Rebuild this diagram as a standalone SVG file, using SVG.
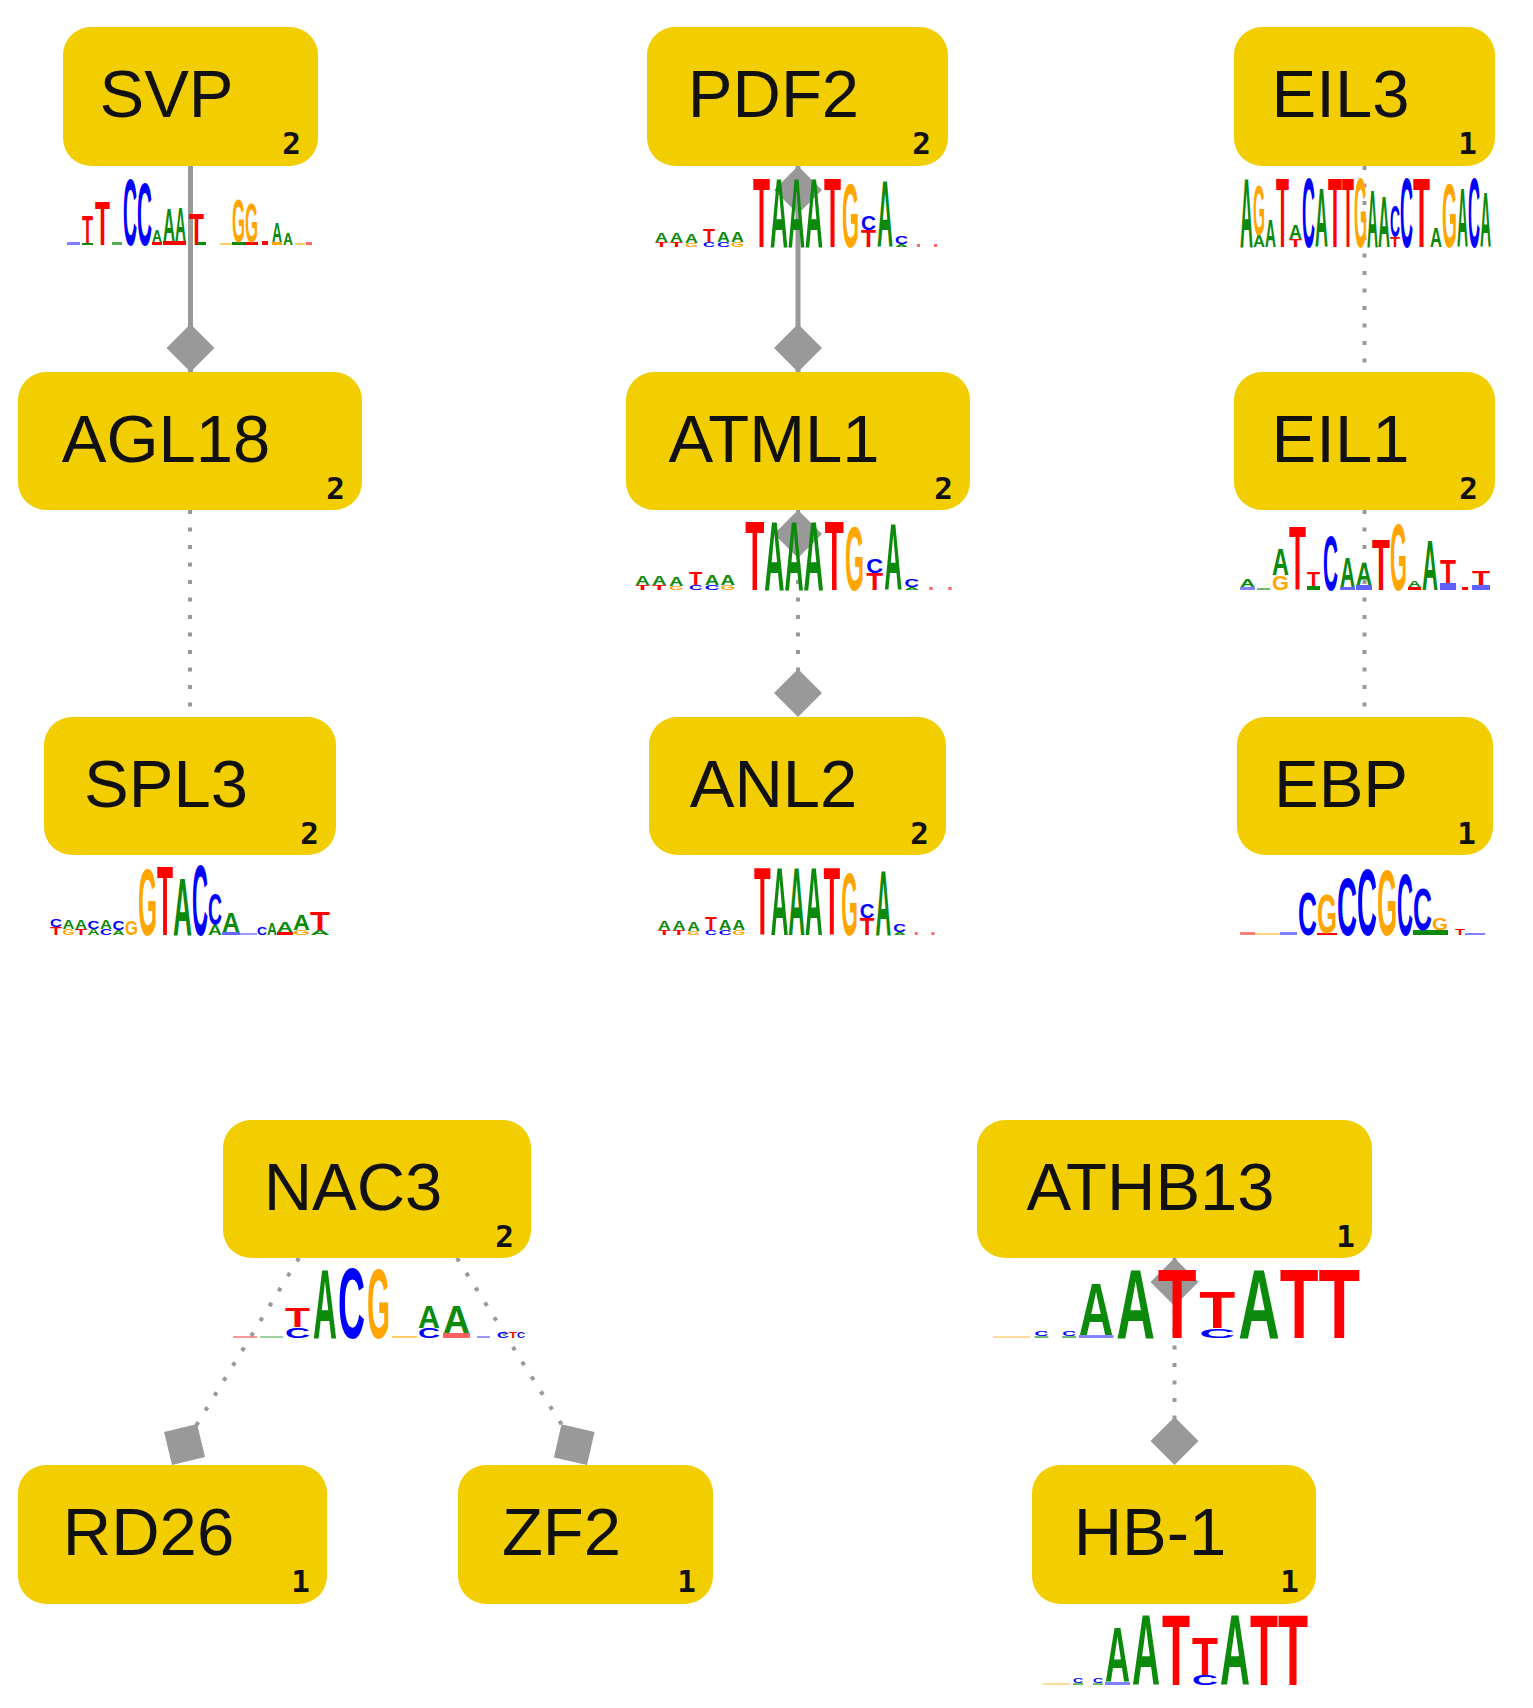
<svg xmlns="http://www.w3.org/2000/svg" xmlns:xlink="http://www.w3.org/1999/xlink" width="1533" height="1708" viewBox="0 0 1533 1708">
<style>
.box{fill:#f2cd00}
.lbl{font-family:"Liberation Sans",Arial,sans-serif;font-size:67px;fill:#111;text-anchor:middle}
.cnt{font-family:"DejaVu Sans Mono","Liberation Mono",monospace;font-size:31px;font-weight:bold;fill:#111;text-anchor:end}
.solid{stroke:#999;stroke-width:5;fill:none}
.dot{stroke:#999;stroke-width:4;stroke-dasharray:4 13.5;fill:none}
.l{font-family:"Liberation Sans",Arial,sans-serif;font-weight:bold}
.a{fill:#0c8a0c}.c{fill:#0000ff}.g{fill:#ffa500}.t{fill:#ff0000}
</style>
<defs>
<marker id="dia" viewBox="0 0 48 48" markerUnits="userSpaceOnUse" markerWidth="48" markerHeight="48" refX="48" refY="24" orient="auto"><path d="M0,24 L24,0 L48,24 L24,48 Z" fill="#999"/></marker>
<marker id="diaS" viewBox="0 0 48 48" markerUnits="userSpaceOnUse" markerWidth="48" markerHeight="48" refX="0" refY="24" orient="auto"><path d="M0,24 L24,0 L48,24 L24,48 Z" fill="#999"/></marker>
<g id="logoTAAATGCA">
<text class="l t" x="2" y="0" font-size="7" textLength="13" lengthAdjust="spacingAndGlyphs">T</text>
<text class="l a" x="2" y="-5" font-size="12.6" textLength="13" lengthAdjust="spacingAndGlyphs">A</text>
<text class="l t" x="17" y="0" font-size="7" textLength="13" lengthAdjust="spacingAndGlyphs">T</text>
<text class="l a" x="17" y="-5" font-size="12.6" textLength="13" lengthAdjust="spacingAndGlyphs">A</text>
<text class="l g" x="32" y="0" font-size="5.6" textLength="13" lengthAdjust="spacingAndGlyphs">G</text>
<text class="l a" x="32" y="-4" font-size="12.6" textLength="13" lengthAdjust="spacingAndGlyphs">A</text>
<text class="l c" x="50" y="0" font-size="7" textLength="12" lengthAdjust="spacingAndGlyphs">C</text>
<text class="l t" x="50" y="-5" font-size="18.2" textLength="12" lengthAdjust="spacingAndGlyphs">T</text>
<text class="l c" x="64" y="0" font-size="7" textLength="13" lengthAdjust="spacingAndGlyphs">C</text>
<text class="l a" x="64" y="-5" font-size="14" textLength="13" lengthAdjust="spacingAndGlyphs">A</text>
<text class="l g" x="78" y="0" font-size="7" textLength="13" lengthAdjust="spacingAndGlyphs">G</text>
<text class="l a" x="78" y="-5" font-size="14" textLength="13" lengthAdjust="spacingAndGlyphs">A</text>
<text class="l t" x="100" y="0" font-size="98" textLength="17" lengthAdjust="spacingAndGlyphs">T</text>
<text class="l a" x="117" y="0" font-size="98" textLength="18" lengthAdjust="spacingAndGlyphs">A</text>
<text class="l a" x="135" y="0" font-size="98" textLength="17" lengthAdjust="spacingAndGlyphs">A</text>
<text class="l a" x="152" y="0" font-size="98" textLength="18" lengthAdjust="spacingAndGlyphs">A</text>
<text class="l t" x="171" y="0" font-size="98" textLength="17" lengthAdjust="spacingAndGlyphs">T</text>
<text class="l g" x="189" y="0" font-size="91" textLength="17" lengthAdjust="spacingAndGlyphs">G</text>
<text class="l t" x="208" y="0" font-size="23.8" textLength="15" lengthAdjust="spacingAndGlyphs">T</text>
<text class="l c" x="208" y="-17" font-size="21" textLength="15" lengthAdjust="spacingAndGlyphs">C</text>
<text class="l a" x="224" y="0" font-size="93.8" textLength="16" lengthAdjust="spacingAndGlyphs">A</text>
<text class="l a" x="242" y="0" font-size="4.2" textLength="13" lengthAdjust="spacingAndGlyphs">A</text>
<text class="l c" x="242" y="-3" font-size="11.2" textLength="13" lengthAdjust="spacingAndGlyphs">C</text>
<rect x="264" y="-3" width="3" height="3" fill="#ff6666"/>
<rect x="281" y="-3" width="3" height="3" fill="#ff6666"/>
</g>
<g id="logoAATTATT">
<rect x="0" y="-2" width="27" height="2" fill="#ffa500" opacity="0.4"/>
<rect x="30" y="-2" width="10" height="2" fill="#0c8a0c" opacity="0.6"/>
<text class="l c" x="30" y="-2" font-size="7" textLength="10" lengthAdjust="spacingAndGlyphs">C</text>
<rect x="50" y="-2" width="10" height="2" fill="#0c8a0c" opacity="0.6"/>
<text class="l c" x="50" y="-2" font-size="7" textLength="10" lengthAdjust="spacingAndGlyphs">C</text>
<rect x="62" y="-3" width="25" height="3" fill="#0000ff" opacity="0.5"/>
<text class="l a" x="62" y="-3" font-size="77" textLength="25" lengthAdjust="spacingAndGlyphs">A</text>
<text class="l a" x="89" y="0" font-size="100.8" textLength="28" lengthAdjust="spacingAndGlyphs">A</text>
<text class="l t" x="119" y="0" font-size="100.8" textLength="28" lengthAdjust="spacingAndGlyphs">T</text>
<text class="l c" x="149" y="0" font-size="14" textLength="26" lengthAdjust="spacingAndGlyphs">C</text>
<text class="l t" x="149" y="-10" font-size="53.2" textLength="26" lengthAdjust="spacingAndGlyphs">T</text>
<text class="l a" x="177" y="0" font-size="100.8" textLength="30" lengthAdjust="spacingAndGlyphs">A</text>
<text class="l t" x="207" y="0" font-size="100.8" textLength="28" lengthAdjust="spacingAndGlyphs">T</text>
<text class="l t" x="235" y="0" font-size="100.8" textLength="30" lengthAdjust="spacingAndGlyphs">T</text>
</g>
</defs>
<rect width="1533" height="1708" fill="#fff"/>
<g id="connectors">
<path class="solid" d="M190.5,166 L190.5,372" marker-end="url(#dia)"/>
<path class="solid" d="M798,166 L798,372" marker-start="url(#diaS)" marker-end="url(#dia)"/>
<path class="dot" d="M1364.5,166 L1364.5,372"/>
<path class="dot" d="M190,510 L190,717"/>
<path class="dot" d="M798,510 L798,717" marker-start="url(#diaS)" marker-end="url(#dia)"/>
<path class="dot" d="M1364.5,510 L1364.5,717"/>
<path class="dot" d="M299,1258 L172,1465" marker-end="url(#dia)"/>
<path class="dot" d="M457,1258 L587,1465" marker-end="url(#dia)"/>
<path class="dot" d="M1174.5,1258 L1174.5,1465" marker-start="url(#diaS)" marker-end="url(#dia)"/>
</g>
<g id="SVP">
<rect class="box" x="63" y="27" width="255" height="139" rx="28"/>
<text class="lbl" x="166.5" y="117">SVP</text>
<text class="cnt" x="301" y="154">2</text>
<g>
<rect x="67" y="242" width="13" height="3" fill="#0000ff" opacity="0.5"/>
<rect x="82" y="243" width="11" height="2" fill="#0c8a0c"/>
<text class="l t" x="82" y="243" font-size="39.2" textLength="11" lengthAdjust="spacingAndGlyphs">T</text>
<text class="l t" x="95" y="245" font-size="63" textLength="15" lengthAdjust="spacingAndGlyphs">T</text>
<rect x="112" y="242" width="10" height="3" fill="#0c8a0c" opacity="0.7"/>
<text class="l c" x="123" y="245" font-size="95.2" textLength="14" lengthAdjust="spacingAndGlyphs">C</text>
<text class="l c" x="137" y="245" font-size="88.2" textLength="15" lengthAdjust="spacingAndGlyphs">C</text>
<rect x="152" y="242" width="10" height="3" fill="#ff0000"/>
<text class="l a" x="152" y="242" font-size="16.8" textLength="10" lengthAdjust="spacingAndGlyphs">A</text>
<rect x="163" y="241" width="12" height="4" fill="#ff0000"/>
<text class="l a" x="163" y="241" font-size="46.2" textLength="12" lengthAdjust="spacingAndGlyphs">A</text>
<rect x="175" y="241" width="11" height="4" fill="#ff0000"/>
<text class="l a" x="175" y="241" font-size="49" textLength="11" lengthAdjust="spacingAndGlyphs">A</text>
<text class="l t" x="189" y="245" font-size="44.8" textLength="15" lengthAdjust="spacingAndGlyphs">T</text>
<rect x="198" y="242" width="8" height="3" fill="#0c8a0c"/>
<rect x="220" y="243" width="12" height="2" fill="#ffa500" opacity="0.6"/>
<rect x="232" y="242" width="13" height="3" fill="#0c8a0c"/>
<text class="l g" x="232" y="242" font-size="61.6" textLength="13" lengthAdjust="spacingAndGlyphs">G</text>
<rect x="245" y="242" width="13" height="3" fill="#ff0000"/>
<text class="l g" x="245" y="242" font-size="56" textLength="13" lengthAdjust="spacingAndGlyphs">G</text>
<rect x="262" y="241" width="6" height="4" fill="#ff0000"/>
<rect x="272" y="242" width="10" height="3" fill="#ffa500"/>
<text class="l a" x="272" y="242" font-size="28" textLength="10" lengthAdjust="spacingAndGlyphs">A</text>
<text class="l a" x="283" y="245" font-size="16.8" textLength="10" lengthAdjust="spacingAndGlyphs">A</text>
<rect x="295" y="243" width="10" height="2" fill="#ffa500" opacity="0.6"/>
<rect x="306" y="242" width="6" height="3" fill="#ff0000" opacity="0.6"/>
</g>
</g>
<g id="PDF2">
<rect class="box" x="647" y="27" width="301" height="139" rx="28"/>
<text class="lbl" x="773.5" y="117">PDF2</text>
<text class="cnt" x="931" y="154">2</text>
<use xlink:href="#logoTAAATGCA" transform="translate(653,247)"/>
</g>
<g id="EIL3">
<rect class="box" x="1234" y="27" width="261" height="139" rx="28"/>
<text class="lbl" x="1340.5" y="117">EIL3</text>
<text class="cnt" x="1477" y="154">1</text>
<g>
<text class="l a" x="1240" y="247" font-size="98" textLength="13" lengthAdjust="spacingAndGlyphs">A</text>
<text class="l a" x="1253" y="247" font-size="16.8" textLength="12" lengthAdjust="spacingAndGlyphs">A</text>
<text class="l g" x="1253" y="235" font-size="70" textLength="12" lengthAdjust="spacingAndGlyphs">G</text>
<text class="l a" x="1265" y="247" font-size="39.2" textLength="11" lengthAdjust="spacingAndGlyphs">A</text>
<text class="l t" x="1276" y="247" font-size="98" textLength="13" lengthAdjust="spacingAndGlyphs">T</text>
<text class="l t" x="1289" y="247" font-size="11.2" textLength="13" lengthAdjust="spacingAndGlyphs">T</text>
<text class="l a" x="1289" y="239" font-size="19.6" textLength="13" lengthAdjust="spacingAndGlyphs">A</text>
<text class="l c" x="1302" y="247" font-size="98" textLength="13" lengthAdjust="spacingAndGlyphs">C</text>
<text class="l a" x="1315" y="247" font-size="84" textLength="13" lengthAdjust="spacingAndGlyphs">A</text>
<text class="l t" x="1328" y="247" font-size="98" textLength="14" lengthAdjust="spacingAndGlyphs">T</text>
<text class="l t" x="1342" y="247" font-size="98" textLength="12" lengthAdjust="spacingAndGlyphs">T</text>
<text class="l g" x="1354" y="247" font-size="98" textLength="13" lengthAdjust="spacingAndGlyphs">G</text>
<text class="l a" x="1367" y="247" font-size="81.2" textLength="11" lengthAdjust="spacingAndGlyphs">A</text>
<text class="l a" x="1378" y="247" font-size="72.8" textLength="12" lengthAdjust="spacingAndGlyphs">A</text>
<text class="l t" x="1390" y="247" font-size="14" textLength="10" lengthAdjust="spacingAndGlyphs">T</text>
<text class="l c" x="1390" y="237" font-size="44.8" textLength="10" lengthAdjust="spacingAndGlyphs">C</text>
<text class="l c" x="1400" y="247" font-size="98" textLength="13" lengthAdjust="spacingAndGlyphs">C</text>
<text class="l t" x="1413" y="247" font-size="98" textLength="17" lengthAdjust="spacingAndGlyphs">T</text>
<text class="l a" x="1430" y="247" font-size="28" textLength="12" lengthAdjust="spacingAndGlyphs">A</text>
<text class="l g" x="1442" y="247" font-size="91" textLength="15" lengthAdjust="spacingAndGlyphs">G</text>
<text class="l a" x="1457" y="247" font-size="84" textLength="11" lengthAdjust="spacingAndGlyphs">A</text>
<text class="l c" x="1468" y="247" font-size="98" textLength="12" lengthAdjust="spacingAndGlyphs">C</text>
<text class="l a" transform="translate(1480,247) scale(0.2,1)" font-size="77">A</text>
</g>
</g>
<g id="AGL18">
<rect class="box" x="18" y="372" width="344" height="138" rx="28"/>
<text class="lbl" x="166" y="462">AGL18</text>
<text class="cnt" x="345" y="499">2</text>
</g>
<g id="ATML1">
<rect class="box" x="626" y="372" width="344" height="138" rx="28"/>
<text class="lbl" x="774" y="462">ATML1</text>
<text class="cnt" x="953" y="499">2</text>
<use xlink:href="#logoTAAATGCA" transform="translate(633,590) scale(1.122,1)"/>
</g>
<g id="EIL1">
<rect class="box" x="1234" y="372" width="261" height="138" rx="28"/>
<text class="lbl" x="1340.5" y="462">EIL1</text>
<text class="cnt" x="1478" y="499">2</text>
<g>
<rect x="1240" y="587" width="15" height="3" fill="#0000ff" opacity="0.5"/>
<text class="l a" x="1240" y="587" font-size="11.2" textLength="15" lengthAdjust="spacingAndGlyphs">A</text>
<rect x="1257" y="588" width="13" height="2" fill="#0c8a0c" opacity="0.6"/>
<text class="l g" x="1272" y="590" font-size="21" textLength="17" lengthAdjust="spacingAndGlyphs">G</text>
<text class="l a" x="1272" y="575" font-size="36.4" textLength="17" lengthAdjust="spacingAndGlyphs">A</text>
<text class="l t" x="1289" y="590" font-size="91" textLength="17" lengthAdjust="spacingAndGlyphs">T</text>
<rect x="1307" y="586" width="13" height="4" fill="#0c8a0c"/>
<text class="l t" x="1307" y="586" font-size="21" textLength="13" lengthAdjust="spacingAndGlyphs">T</text>
<text class="l c" x="1323" y="590" font-size="77" textLength="15" lengthAdjust="spacingAndGlyphs">C</text>
<rect x="1340" y="587" width="15" height="3" fill="#0000ff" opacity="0.6"/>
<text class="l a" x="1340" y="587" font-size="42" textLength="15" lengthAdjust="spacingAndGlyphs">A</text>
<rect x="1356" y="585" width="16" height="5" fill="#6060ff"/>
<text class="l a" x="1356" y="585" font-size="30.8" textLength="16" lengthAdjust="spacingAndGlyphs">A</text>
<text class="l t" x="1372" y="590" font-size="72.8" textLength="18" lengthAdjust="spacingAndGlyphs">T</text>
<text class="l g" x="1390" y="590" font-size="93.8" textLength="17" lengthAdjust="spacingAndGlyphs">G</text>
<rect x="1408" y="587" width="13" height="3" fill="#ff0000"/>
<text class="l a" x="1408" y="587" font-size="9.8" textLength="13" lengthAdjust="spacingAndGlyphs">A</text>
<text class="l a" x="1422" y="590" font-size="70" textLength="16" lengthAdjust="spacingAndGlyphs">A</text>
<rect x="1440" y="583" width="16" height="7" fill="#6060ff"/>
<text class="l t" x="1440" y="583" font-size="33.6" textLength="16" lengthAdjust="spacingAndGlyphs">T</text>
<rect x="1462" y="587" width="6" height="3" fill="#ff0000"/>
<rect x="1472" y="585" width="18" height="5" fill="#6060ff"/>
<text class="l t" x="1472" y="585" font-size="19.6" textLength="18" lengthAdjust="spacingAndGlyphs">T</text>
</g>
</g>
<g id="SPL3">
<rect class="box" x="44" y="717" width="292" height="138" rx="28"/>
<text class="lbl" x="166" y="807">SPL3</text>
<text class="cnt" x="319" y="844">2</text>
<g>
<text class="l t" x="50" y="935" font-size="11.2" textLength="12" lengthAdjust="spacingAndGlyphs">T</text>
<text class="l c" x="50" y="927" font-size="11.2" textLength="12" lengthAdjust="spacingAndGlyphs">C</text>
<text class="l g" x="62.5" y="935" font-size="8.4" textLength="12" lengthAdjust="spacingAndGlyphs">G</text>
<text class="l a" x="62.5" y="929" font-size="12.6" textLength="12" lengthAdjust="spacingAndGlyphs">A</text>
<text class="l t" x="75" y="935" font-size="8.4" textLength="12" lengthAdjust="spacingAndGlyphs">T</text>
<text class="l a" x="75" y="929" font-size="12.6" textLength="12" lengthAdjust="spacingAndGlyphs">A</text>
<text class="l a" x="87.5" y="935" font-size="8.4" textLength="12" lengthAdjust="spacingAndGlyphs">A</text>
<text class="l c" x="87.5" y="929" font-size="11.2" textLength="12" lengthAdjust="spacingAndGlyphs">C</text>
<text class="l c" x="100" y="935" font-size="8.4" textLength="12" lengthAdjust="spacingAndGlyphs">C</text>
<text class="l a" x="100" y="929" font-size="12.6" textLength="12" lengthAdjust="spacingAndGlyphs">A</text>
<text class="l a" x="112.5" y="935" font-size="7" textLength="12" lengthAdjust="spacingAndGlyphs">A</text>
<text class="l c" x="112.5" y="930" font-size="12.6" textLength="12" lengthAdjust="spacingAndGlyphs">C</text>
<text class="l g" x="125" y="935" font-size="21" textLength="13" lengthAdjust="spacingAndGlyphs">G</text>
<text class="l g" x="138" y="935" font-size="95.2" textLength="19" lengthAdjust="spacingAndGlyphs">G</text>
<text class="l t" x="157" y="935" font-size="98" textLength="16" lengthAdjust="spacingAndGlyphs">T</text>
<text class="l a" x="173" y="935" font-size="81.2" textLength="19" lengthAdjust="spacingAndGlyphs">A</text>
<text class="l c" x="192" y="935" font-size="100.8" textLength="16" lengthAdjust="spacingAndGlyphs">C</text>
<text class="l a" x="208" y="935" font-size="14" textLength="14" lengthAdjust="spacingAndGlyphs">A</text>
<text class="l c" x="208" y="925" font-size="44.8" textLength="14" lengthAdjust="spacingAndGlyphs">C</text>
<rect x="222" y="932" width="18" height="3" fill="#0000ff" opacity="0.6"/>
<text class="l a" x="222" y="932" font-size="28" textLength="18" lengthAdjust="spacingAndGlyphs">A</text>
<rect x="240" y="933" width="17" height="2" fill="#0000ff" opacity="0.4"/>
<text class="l c" x="257" y="935" font-size="11.2" textLength="10" lengthAdjust="spacingAndGlyphs">C</text>
<text class="l a" x="267" y="935" font-size="16.8" textLength="10" lengthAdjust="spacingAndGlyphs">A</text>
<rect x="277" y="932" width="16" height="3" fill="#ff0000"/>
<text class="l a" x="277" y="932" font-size="15" textLength="16" lengthAdjust="spacingAndGlyphs">A</text>
<text class="l g" x="293" y="935" font-size="7" textLength="17" lengthAdjust="spacingAndGlyphs">G</text>
<text class="l a" x="293" y="930" font-size="22.4" textLength="17" lengthAdjust="spacingAndGlyphs">A</text>
<text class="l a" x="310" y="935" font-size="7" textLength="20" lengthAdjust="spacingAndGlyphs">A</text>
<text class="l t" x="310" y="930" font-size="25.2" textLength="20" lengthAdjust="spacingAndGlyphs">T</text>
</g>
</g>
<g id="ANL2">
<rect class="box" x="649" y="717" width="297" height="138" rx="28"/>
<text class="lbl" x="773.5" y="807">ANL2</text>
<text class="cnt" x="929" y="844">2</text>
<use xlink:href="#logoTAAATGCA" transform="translate(656,935) scale(0.98,0.985)"/>
</g>
<g id="EBP">
<rect class="box" x="1237" y="717" width="256" height="138" rx="28"/>
<text class="lbl" x="1341" y="807">EBP</text>
<text class="cnt" x="1476" y="844">1</text>
<g>
<rect x="1240" y="932" width="15" height="3" fill="#ff0000" opacity="0.5"/>
<rect x="1255" y="933" width="25" height="2" fill="#ffa500" opacity="0.5"/>
<rect x="1280" y="932" width="17" height="3" fill="#0000ff" opacity="0.5"/>
<text class="l c" x="1298" y="935" font-size="61.6" textLength="19" lengthAdjust="spacingAndGlyphs">C</text>
<rect x="1317" y="933" width="20" height="2" fill="#ff0000"/>
<text class="l g" x="1317" y="933" font-size="56" textLength="20" lengthAdjust="spacingAndGlyphs">G</text>
<text class="l c" x="1337" y="935" font-size="81.2" textLength="20" lengthAdjust="spacingAndGlyphs">C</text>
<text class="l c" x="1357" y="935" font-size="95.2" textLength="20" lengthAdjust="spacingAndGlyphs">C</text>
<text class="l g" x="1377" y="935" font-size="92.4" textLength="20" lengthAdjust="spacingAndGlyphs">G</text>
<text class="l c" x="1397" y="935" font-size="86.8" textLength="16" lengthAdjust="spacingAndGlyphs">C</text>
<rect x="1413" y="930" width="19" height="5" fill="#0c8a0c"/>
<text class="l c" x="1413" y="930" font-size="58.8" textLength="19" lengthAdjust="spacingAndGlyphs">C</text>
<rect x="1432" y="930" width="16" height="5" fill="#0c8a0c"/>
<text class="l g" x="1432" y="930" font-size="16.8" textLength="16" lengthAdjust="spacingAndGlyphs">G</text>
<text class="l t" x="1455" y="935" font-size="8.4" textLength="10" lengthAdjust="spacingAndGlyphs">T</text>
<rect x="1465" y="933" width="20" height="2" fill="#0000ff" opacity="0.5"/>
</g>
</g>
<g id="NAC3">
<rect class="box" x="223" y="1120" width="308" height="138" rx="28"/>
<text class="lbl" x="353" y="1210">NAC3</text>
<text class="cnt" x="514" y="1247">2</text>
<g>
<rect x="233" y="1336" width="24" height="2" fill="#ff0000" opacity="0.4"/>
<rect x="260" y="1336" width="23" height="2" fill="#0c8a0c" opacity="0.4"/>
<text class="l c" x="285" y="1338" font-size="15.4" textLength="25" lengthAdjust="spacingAndGlyphs">C</text>
<text class="l t" x="285" y="1327" font-size="28" textLength="25" lengthAdjust="spacingAndGlyphs">T</text>
<text class="l a" x="313" y="1338" font-size="98" textLength="24" lengthAdjust="spacingAndGlyphs">A</text>
<text class="l c" x="338" y="1338" font-size="100.8" textLength="27" lengthAdjust="spacingAndGlyphs">C</text>
<text class="l g" x="367" y="1338" font-size="98" textLength="23" lengthAdjust="spacingAndGlyphs">G</text>
<rect x="392" y="1336" width="25" height="2" fill="#ffa500" opacity="0.6"/>
<text class="l c" x="418" y="1338" font-size="14" textLength="22" lengthAdjust="spacingAndGlyphs">C</text>
<text class="l a" x="418" y="1328" font-size="30.8" textLength="22" lengthAdjust="spacingAndGlyphs">A</text>
<rect x="443" y="1333" width="27" height="5" fill="#ff6060"/>
<text class="l a" x="443" y="1333" font-size="39.2" textLength="27" lengthAdjust="spacingAndGlyphs">A</text>
<rect x="477" y="1336" width="13" height="2" fill="#0000ff" opacity="0.4"/>
<text class="l c" x="497" y="1338" font-size="9.8" textLength="12" lengthAdjust="spacingAndGlyphs">C</text>
<text class="l t" x="509" y="1338" font-size="8.4" textLength="8" lengthAdjust="spacingAndGlyphs">T</text>
<text class="l c" x="517" y="1338" font-size="8.4" textLength="8" lengthAdjust="spacingAndGlyphs">C</text>
</g>
</g>
<g id="ATHB13">
<rect class="box" x="977" y="1120" width="395" height="138" rx="28"/>
<text class="lbl" x="1150.5" y="1210">ATHB13</text>
<text class="cnt" x="1355" y="1247">1</text>
<use xlink:href="#logoAATTATT" transform="translate(993,1338) scale(1.385,0.97)"/>
</g>
<g id="RD26">
<rect class="box" x="18" y="1465" width="309" height="139" rx="28"/>
<text class="lbl" x="148.5" y="1555">RD26</text>
<text class="cnt" x="310" y="1592">1</text>
</g>
<g id="ZF2">
<rect class="box" x="458" y="1465" width="255" height="139" rx="28"/>
<text class="lbl" x="561.5" y="1555">ZF2</text>
<text class="cnt" x="696" y="1592">1</text>
</g>
<g id="HB-1">
<rect class="box" x="1032" y="1465" width="284" height="139" rx="28"/>
<text class="lbl" x="1150" y="1555">HB-1</text>
<text class="cnt" x="1299" y="1592">1</text>
<use xlink:href="#logoAATTATT" transform="translate(1043,1685)"/>
</g>
</svg>
